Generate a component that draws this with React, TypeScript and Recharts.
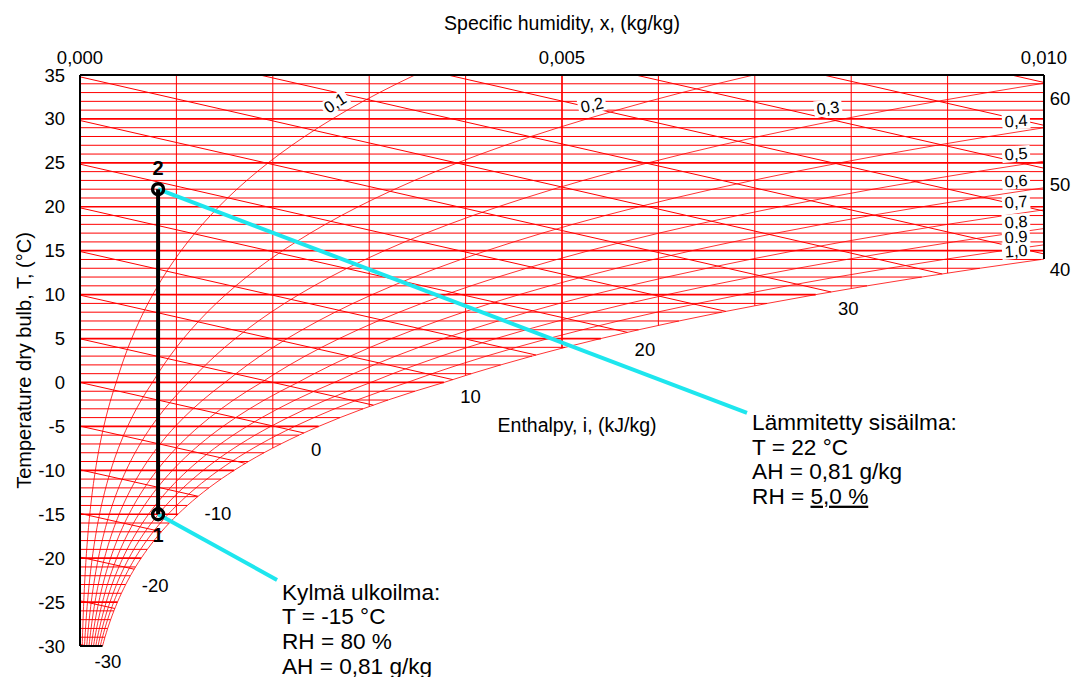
import React from 'react';
import { ComposedChart, Line, XAxis, YAxis, ReferenceDot, ReferenceLine } from 'recharts';

const FONT = '"Liberation Sans", Arial, Helvetica, sans-serif';
const RED = '#ff0000';
const CYAN = '#1ee6ee';
const P_ATM = 101.325; // kPa

// saturation vapour pressure table (kPa), over ice below 0 °C
const SAT_T = [
  -30, -29, -28, -27, -26, -25, -24, -23, -22, -21, -20, -19, -18, -17, -16, -15, -14, -13, -12, -11,
  -10, -9, -8, -7, -6, -5, -4, -3, -2, -1, 0, 1, 2, 3, 4, 5, 6, 7, 8, 9, 10, 11, 12, 13, 14, 15, 16,
  17, 18, 19, 20, 21, 22, 23, 24, 25, 26, 27, 28, 29, 30, 31, 32, 33, 34, 35,
];
const SAT_P = [
  0.03804, 0.04219, 0.04675, 0.05177, 0.05727, 0.0633, 0.06991, 0.07716, 0.0851, 0.09378, 0.10326,
  0.11362, 0.12492, 0.13723, 0.15066, 0.16528, 0.18119, 0.1985, 0.2173, 0.23772, 0.25988, 0.28392,
  0.30996, 0.33818, 0.36871, 0.40175, 0.43747, 0.47605, 0.51772, 0.5627, 0.6112, 0.6571, 0.706,
  0.7581, 0.8135, 0.8726, 0.9354, 1.0021, 1.073, 1.1482, 1.2282, 1.3129, 1.4028, 1.4981, 1.5989,
  1.7057, 1.8188, 1.9383, 2.0647, 2.1982, 2.3392, 2.4881, 2.6452, 2.8109, 2.9856, 3.1697, 3.3637,
  3.5679, 3.7828, 4.0089, 4.2467, 4.4966, 4.7592, 5.0351, 5.3247, 5.6286,
];

const RH_LEVELS = [0.1, 0.2, 0.3, 0.4, 0.5, 0.6, 0.7, 0.8, 0.9, 1.0];
const X_GRID = [0.001, 0.002, 0.003, 0.004, 0.005, 0.006, 0.007, 0.008, 0.009];
const ENTHALPY = [-30, -25, -20, -15, -10, -5, 0, 5, 10, 15, 20, 25, 30, 35, 40, 45, 50, 55, 60];
const X_TICKS = [0, 0.005, 0.01];
const Y_TICKS = [-30, -25, -20, -15, -10, -5, 0, 5, 10, 15, 20, 25, 30, 35];

const ENTHALPY_LABELS = [
  { text: '-30', x: 0.00029, y: -31.8, anchor: 'middle' },
  { text: '-20', x: 0.00078, y: -23.17, anchor: 'middle' },
  { text: '-10', x: 0.00143, y: -14.97, anchor: 'middle' },
  { text: '0', x: 0.00245, y: -7.69, anchor: 'middle' },
  { text: '10', x: 0.00405, y: -1.65, anchor: 'middle' },
  { text: '20', x: 0.00586, y: 3.7, anchor: 'middle' },
  { text: '30', x: 0.00797, y: 8.36, anchor: 'middle' },
  { text: '40', x: 0.01006, y: 12.8, anchor: 'start' },
  { text: '50', x: 0.01006, y: 22.48, anchor: 'start' },
  { text: '60', x: 0.01006, y: 32.27, anchor: 'start' },
];

const RH_LABELS = [
  { text: '0,1', x: 0.002645, y: 31.81, angle: -33 },
  { text: '0,2', x: 0.005311, y: 31.59, angle: -12 },
  { text: '0,3', x: 0.007759, y: 31.24, angle: -6 },
  { text: '0,4', x: 0.00971, y: 29.76, angle: -4 },
  { text: '0,5', x: 0.00971, y: 26.01, angle: -4 },
  { text: '0,6', x: 0.00971, y: 22.93, angle: -4 },
  { text: '0,7', x: 0.00971, y: 20.54, angle: -4 },
  { text: '0,8', x: 0.00971, y: 18.27, angle: -4 },
  { text: '0,9', x: 0.00971, y: 16.56, angle: -4 },
  { text: '1,0', x: 0.00971, y: 14.97, angle: -4 },
];

// process: heating at constant humidity 0,81 g/kg
const STATE_1 = { x: 0.00081, y: -15 };
const STATE_2 = { x: 0.00081, y: 22 };
const STATE_1_LABEL = { text: '1', x: 0.00081, y: -17.36 };
const STATE_2_LABEL = { text: '2', x: 0.00081, y: 24.41 };

const INDOOR_ANCHOR = { x: 0.006919, y: -3.47 };
const OUTDOOR_ANCHOR = { x: 0.002044, y: -22.48 };
const INDOOR_TEXT = { x: 0.006972, y: -4.5 };
const OUTDOOR_TEXT = { x: 0.002096, y: -23.85 };
const INDOOR_LINES = ['Lämmitetty sisäilma:', 'T = 22 °C', 'AH = 0,81 g/kg'];
const INDOOR_RH = { label: 'RH = ', value: '5,0 %' };
const OUTDOOR_LINES = ['Kylmä ulkoilma:', 'T = -15 °C', 'RH = 80 %', 'AH = 0,81 g/kg'];

const ENTHALPY_TITLE = { text: 'Enthalpy, i, (kJ/kg)', x: 0.005156, y: -4.84 };

// ---- helpers
const mix = (p: number) => (0.622 * p) / (P_ATM - p);
const satX = SAT_P.map(mix);
const enth = (x: number, t: number) => 1.006 * t + x * (2501 + 1.86 * t);
const satH = SAT_T.map((t, k) => enth(satX[k], t));

function dewPoint(x: number) {
  for (let k = 1; k < SAT_T.length; k++) {
    if (satX[k] >= x) {
      const f = (x - satX[k - 1]) / (satX[k] - satX[k - 1]);
      return SAT_T[k - 1] + f * (SAT_T[k] - SAT_T[k - 1]);
    }
  }
  return 35;
}

function enthalpySegment(i: number) {
  const start = i / 1.006 <= 35 ? { x: 0, y: i / 1.006 } : { x: (i - 1.006 * 35) / (2501 + 1.86 * 35), y: 35 };
  let end = { x: 0.01, y: (i - 25.01) / 1.0246 };
  if (satH[0] > i) {
    end = { x: (i + 1.006 * 30) / (2501 - 1.86 * 30), y: -30 };
  } else {
    for (let k = 1; k < SAT_T.length; k++) {
      if (satH[k] >= i) {
        const f = (i - satH[k - 1]) / (satH[k] - satH[k - 1]);
        const x = satX[k - 1] + f * (satX[k] - satX[k - 1]);
        if (x <= 0.01) end = { x, y: SAT_T[k - 1] + f };
        break;
      }
    }
  }
  return [start, end];
}

const fmtX = (v: number) => v.toFixed(3).replace('.', ',');

const textShape = (text: string, opts: any = {}) => (p: any) => (
  <text
    x={p.cx}
    y={p.cy}
    dy="0.35em"
    textAnchor={opts.anchor || 'middle'}
    fontSize={opts.size || 18.5}
    fontWeight={opts.weight || 'normal'}
    fontFamily={FONT}
    fill="#000"
  >
    {text}
  </text>
);

const rhShape = (text: string, angle: number) => (p: any) => (
  <g transform={`rotate(${angle}, ${p.cx}, ${p.cy})`}>
    <rect x={p.cx - 14} y={p.cy - 8} width={28} height={16} fill="#fff" />
    <text x={p.cx} y={p.cy} dy="0.35em" textAnchor="middle" fontSize={16.5} fontFamily={FONT} fill="#000">
      {text}
    </text>
  </g>
);

const blockShape = (lines: string[], extra?: { label: string; value: string }) => (p: any) => (
  <text x={p.cx} y={p.cy} fontSize={22.6} fontFamily={FONT} fill="#000">
    {lines.map((l, k) => (
      <tspan key={k} x={p.cx} dy={k === 0 ? '0.35em' : 24.6}>
        {l}
      </tspan>
    ))}
    {extra && (
      <tspan x={p.cx} dy={24.6}>
        {extra.label}
        <tspan style={{ textDecoration: 'underline' }}>{extra.value}</tspan>
      </tspan>
    )}
  </text>
);

export default function App() {
  const tick = { fill: '#000', fontSize: 18.5, fontFamily: FONT };
  return (
    <div style={{ position: 'absolute', left: 0, top: 0, width: 1074, height: 677, background: '#fff' }}>
      <ComposedChart width={1074} height={677} margin={{ top: 5, right: 30, bottom: 31, left: 20 }}>
        <XAxis
          type="number"
          dataKey="x"
          orientation="top"
          domain={[0, 0.01]}
          allowDataOverflow
          ticks={X_TICKS}
          interval={0}
          tickFormatter={fmtX}
          height={70}
          tickSize={0}
          tickMargin={11}
          tickLine={false}
          axisLine={{ stroke: '#000', strokeWidth: 2 }}
          tick={tick}
          label={{ value: 'Specific humidity, x, (kg/kg)', position: 'insideTop', offset: 11, fill: '#000', fontSize: 19.5, fontFamily: FONT }}
        />
        <YAxis
          type="number"
          domain={[-30, 35]}
          allowDataOverflow
          ticks={Y_TICKS}
          interval={0}
          width={60}
          tickSize={0}
          tickMargin={15}
          tickLine={false}
          axisLine={{ stroke: '#000', strokeWidth: 2 }}
          tick={tick}
          label={{
            value: 'Temperature dry bulb, T, (°C)',
            angle: -90,
            position: 'insideLeft',
            offset: 4,
            fill: '#000',
            fontSize: 20,
            fontFamily: FONT,
            style: { textAnchor: 'middle' },
          }}
        />

        {/* dry bulb lines */}
        {SAT_T.map((t, k) => (
          <Line
            key={'t' + t}
            data={[{ x: 0, y: t }, { x: satX[k], y: t }]}
            dataKey="y"
            stroke={RED}
            strokeWidth={t % 5 === 0 ? 1.7 : 1}
            dot={false}
            activeDot={false}
            isAnimationActive={false}
          />
        ))}

        {/* humidity lines */}
        {X_GRID.map((x) => (
          <Line
            key={'x' + x}
            data={[{ x, y: 35 }, { x, y: dewPoint(x) }]}
            dataKey="y"
            stroke={RED}
            strokeWidth={x === 0.005 ? 1.7 : 1}
            dot={false}
            activeDot={false}
            isAnimationActive={false}
          />
        ))}

        {/* enthalpy lines */}
        {ENTHALPY.map((i) => (
          <Line
            key={'h' + i}
            data={enthalpySegment(i)}
            dataKey="y"
            stroke={RED}
            strokeWidth={1}
            dot={false}
            activeDot={false}
            isAnimationActive={false}
          />
        ))}

        {/* relative humidity curves */}
        {RH_LEVELS.map((phi) => (
          <Line
            key={'rh' + phi}
            data={SAT_T.map((t, k) => ({ x: mix(phi * SAT_P[k]), y: t }))}
            dataKey="y"
            type="monotone"
            stroke={RED}
            strokeWidth={0.8}
            dot={false}
            activeDot={false}
            isAnimationActive={false}
          />
        ))}

        <ReferenceLine
          segment={[{ x: 0.01, y: 35 }, { x: 0.01, y: dewPoint(0.01) }]}
          stroke="#000"
          strokeWidth={2}
          ifOverflow="visible"
        />
        <ReferenceLine
          segment={[{ x: 0, y: -30 }, { x: satX[0], y: -30 }]}
          stroke="#000"
          strokeWidth={2}
          ifOverflow="visible"
        />

        {/* process */}
        <Line data={[STATE_2, INDOOR_ANCHOR]} dataKey="y" stroke={CYAN} strokeWidth={4} dot={false} activeDot={false} isAnimationActive={false} />
        <Line data={[STATE_1, OUTDOOR_ANCHOR]} dataKey="y" stroke={CYAN} strokeWidth={4} dot={false} activeDot={false} isAnimationActive={false} />
        <Line
          data={[STATE_1, STATE_2]}
          dataKey="y"
          stroke="#000"
          strokeWidth={4}
          dot={{ r: 5.5, fill: 'none', stroke: '#000', strokeWidth: 3.4 }}
          activeDot={false}
          isAnimationActive={false}
        />

        {RH_LABELS.map((l) => (
          <ReferenceDot key={l.text} x={l.x} y={l.y} r={0} ifOverflow="visible" shape={rhShape(l.text, l.angle)} />
        ))}
        {ENTHALPY_LABELS.map((l) => (
          <ReferenceDot key={'hl' + l.text} x={l.x} y={l.y} r={0} ifOverflow="visible" shape={textShape(l.text, { anchor: l.anchor })} />
        ))}
        <ReferenceDot x={ENTHALPY_TITLE.x} y={ENTHALPY_TITLE.y} r={0} ifOverflow="visible" shape={textShape(ENTHALPY_TITLE.text, { size: 19.5 })} />

        <ReferenceDot x={STATE_1_LABEL.x} y={STATE_1_LABEL.y} r={0} ifOverflow="visible" shape={textShape(STATE_1_LABEL.text, { weight: 'bold', size: 20 })} />
        <ReferenceDot x={STATE_2_LABEL.x} y={STATE_2_LABEL.y} r={0} ifOverflow="visible" shape={textShape(STATE_2_LABEL.text, { weight: 'bold', size: 20 })} />

        <ReferenceDot x={INDOOR_TEXT.x} y={INDOOR_TEXT.y} r={0} ifOverflow="visible" shape={blockShape(INDOOR_LINES, INDOOR_RH)} />
        <ReferenceDot x={OUTDOOR_TEXT.x} y={OUTDOOR_TEXT.y} r={0} ifOverflow="visible" shape={blockShape(OUTDOOR_LINES)} />
      </ComposedChart>
    </div>
  );
}
